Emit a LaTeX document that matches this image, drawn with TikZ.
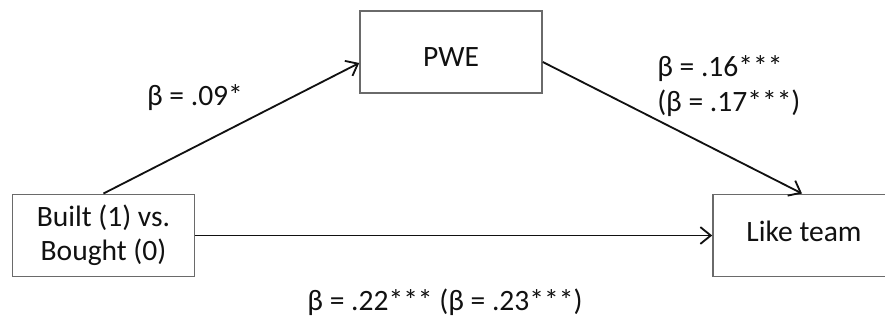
\documentclass[tikz,border=0pt]{standalone}
\usepackage{fontspec}
\setmainfont{Carlito}
\usepackage{tikz}
\usetikzlibrary{arrows.meta,positioning,calc}
\definecolor{pmline}{HTML}{6A6A6A}
\definecolor{pmink}{HTML}{111111}
\tikzset{
  var/.style={draw=pmline, fill=white, line width=1.1pt,
              minimum width=4.55cm, minimum height=2.06cm, inner sep=0pt,
              font=\fontsize{21}{24.5}\selectfont, text=pmink},
  path/.style={-{Straight Barb[length=2.6mm,width=4.2mm,line width=1.3pt]}, draw=pmink, line width=1.3pt},
  coef/.style={font=\fontsize{21}{24.5}\selectfont, text=pmink, inner sep=0pt, align=left},
}
\begin{document}
\begin{tikzpicture}[x=0.025cm, y=-0.025cm]
  \useasboundingbox (0,0) rectangle (885,321);
  \node[var, align=center] (built) at (103.5,235.5) {Built (1) vs.\\Bought (0)};
  \node[var, text height=0.7cm, text depth=0pt] (pwe) at (451,52) {PWE};
  \node[var, text height=0.5cm, text depth=0.19cm] (like) at (804,235.5) {Like team};

  \node[coef] (bA) at (195,98) {β = .09*};
  \node[coef, anchor=west] (bB) at (657,86) {β = .16***\\(β = .17***)};
  \node[coef] (bC) at (445,302) {β = .22*** (β = .23***)};

  \draw[path] (built.north) -- ($(pwe.west)+(0,11)$);
  \draw[path] ($(pwe.east)+(0,10)$) -- ([xshift=-0.05cm]like.north);
  \draw[path] (built.east) -- (like.west);
\end{tikzpicture}
\end{document}
